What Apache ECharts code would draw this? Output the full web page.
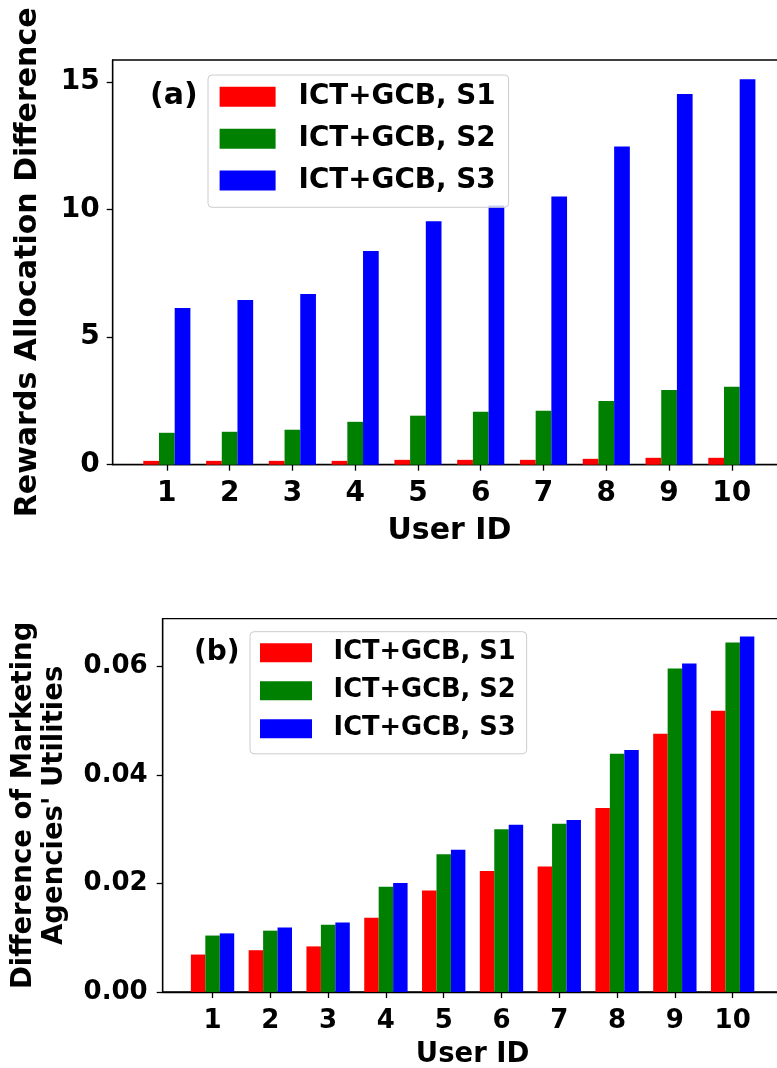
<!DOCTYPE html>
<html>
<head>
<meta charset="utf-8">
<script src="https://cdn.jsdelivr.net/npm/echarts@6/dist/echarts.min.js"></script>
<style>
  html, body { margin: 0; padding: 0; background: #ffffff; }
  #chart { width: 777px; height: 1068px; }
</style>
</head>
<body>
<div id="chart"></div>
<script>
// User IDs on the x axis and the three scheme names
const userIds = [1, 2, 3, 4, 5, 6, 7, 8, 9, 10];
const seriesNames = ['ICT+GCB, S1', 'ICT+GCB, S2', 'ICT+GCB, S3'];

// (a) rewards allocation difference per user
const rewardS1 = [0.15, 0.15, 0.15, 0.15, 0.19, 0.19, 0.19, 0.23, 0.27, 0.27];
const rewardS2 = [1.25, 1.29, 1.37, 1.68, 1.92, 2.07, 2.11, 2.50, 2.93, 3.05];
const rewardS3 = [6.14, 6.45, 6.69, 8.37, 9.54, 10.15, 10.51, 12.47, 14.52, 15.10];

// (b) difference of marketing agencies' utilities per user
const utilS1 = [0.0069, 0.0077, 0.0084, 0.0137, 0.0187, 0.0223, 0.0231, 0.0339, 0.0476, 0.0518];
const utilS2 = [0.0104, 0.0113, 0.0124, 0.0194, 0.0254, 0.0300, 0.0310, 0.0439, 0.0596, 0.0644];
const utilS3 = [0.0108, 0.0119, 0.0128, 0.0201, 0.0262, 0.0308, 0.0317, 0.0446, 0.0605, 0.0655];

// Tick labels on the value axes
const rewardTicks = [0, 5, 10, 15];
const utilTicks = [0, 0.02, 0.04, 0.06];

const colors = ['#ff0000', '#008000', '#0000ff'];
const FONT = 'DejaVu Sans';
const BAR_FRACTION = 0.25;

// Axis limits with 5% padding around the data, like the default autoscale
function xLimits() {
  const lo = userIds[0] - 1.5 * BAR_FRACTION;
  const hi = userIds[userIds.length - 1] + 1.5 * BAR_FRACTION;
  const pad = 0.05 * (hi - lo);
  return [lo - pad, hi + pad];
}
function yMax(groups) {
  return 1.05 * Math.max(...groups.map(g => Math.max(...g)));
}
const [xMin, xMax] = xLimits();

function makeXAxis(gridIndex, tickFont, nameFont, labelMargin, nameGap) {
  return {
    type: 'value', gridIndex, min: xMin, max: xMax,
    axisLine: { show: true, onZero: false, lineStyle: { color: '#000', width: 1.3 } },
    axisTick: { show: true, customValues: userIds, length: 6, lineStyle: { color: '#000', width: 1.3 } },
    axisLabel: { customValues: userIds, fontSize: tickFont, fontWeight: 'bold', fontFamily: FONT, color: '#000', margin: labelMargin },
    splitLine: { show: false },
    name: 'User ID', nameLocation: 'middle', nameGap,
    nameTextStyle: { fontSize: nameFont, fontWeight: 'bold', fontFamily: FONT, color: '#000' }
  };
}

function makeYAxis(gridIndex, max, ticks, fmt, tickFont, name, nameFont, nameGap, labelMargin, nameLineHeight) {
  return {
    type: 'value', gridIndex, min: 0, max,
    axisLine: { show: true, lineStyle: { color: '#000', width: 1.3 } },
    axisTick: { show: true, customValues: ticks, length: 6, lineStyle: { color: '#000', width: 1.3 } },
    axisLabel: { customValues: ticks, formatter: fmt, fontSize: tickFont, fontWeight: 'bold', fontFamily: FONT, color: '#000', margin: labelMargin },
    splitLine: { show: false },
    name, nameLocation: 'middle', nameGap,
    nameTextStyle: { fontSize: nameFont, fontWeight: 'bold', fontFamily: FONT, color: '#000', lineHeight: nameLineHeight, align: 'center' }
  };
}

function makeLegend(box, size) {
  return {
    orient: 'vertical', left: box.left, top: box.top,
    itemWidth: size.w, itemHeight: size.h, itemGap: size.gap,
    padding: box.padding,
    icon: 'rect', selectedMode: false,
    backgroundColor: 'rgba(255,255,255,0.8)', borderColor: '#cccccc', borderWidth: 1, borderRadius: 4,
    textStyle: { fontSize: size.font, fontWeight: 'bold', fontFamily: FONT, color: '#000', padding: [0, 0, 0, size.textPad] },
    data: seriesNames
  };
}

function barSeries(gridIndex, groups) {
  return groups.map((vals, k) => ({
    type: 'bar', name: seriesNames[k],
    xAxisIndex: gridIndex, yAxisIndex: gridIndex,
    barWidth: (BAR_FRACTION * 100) + '%', barGap: '0%',
    itemStyle: { color: colors[k] },
    data: userIds.map((u, i) => [u, vals[i]])
  }));
}

const rewardGroups = [rewardS1, rewardS2, rewardS3];
const utilGroups = [utilS1, utilS2, utilS3];

const chart = echarts.init(document.getElementById('chart'), null, { renderer: 'canvas' });
chart.setOption({
  animation: false,
  backgroundColor: '#ffffff',
  color: colors,
  grid: [
    { left: 112.7, right: -9, top: 60, bottom: 603.3, show: true, borderColor: '#000', borderWidth: 1.3,
      containLabel: false, outerBoundsMode: 'none' },
    { left: 162.7, right: -5.5, top: 618.7, bottom: 76, show: true, borderColor: '#000', borderWidth: 1.3,
      containLabel: false, outerBoundsMode: 'none' }
  ],
  xAxis: [
    makeXAxis(0, 28, 30, 15, 52),
    makeXAxis(1, 26, 27.5, 16, 49)
  ],
  yAxis: [
    makeYAxis(0, yMax(rewardGroups), rewardTicks, v => String(v), 28,
      'Rewards Allocation Difference', 30, 66, 13, 36),
    makeYAxis(1, yMax(utilGroups), utilTicks, v => v.toFixed(2), 26,
      "Difference of Marketing\nAgencies' Utilities", 27.5, 92, 15, 31)
  ],
  legend: [
    makeLegend({ left: 208, top: 75, padding: [7.8, 13, 12.7, 11.6] },
      { w: 56, h: 20, gap: 13.9, font: 27.8, textPad: 18 }),
    makeLegend({ left: 250, top: 631.7, padding: [8.1, 11, 12, 10] },
      { w: 52, h: 19, gap: 12, font: 25.7, textPad: 16.6 })
  ],
  graphic: [
    { type: 'text', left: 150, top: 81, style: { text: '(a)', font: 'bold 30px "DejaVu Sans"', fill: '#000' } },
    { type: 'text', left: 194, top: 639, style: { text: '(b)', font: 'bold 28px "DejaVu Sans"', fill: '#000' } }
  ],
  series: [...barSeries(0, rewardGroups), ...barSeries(1, utilGroups)]
});
</script>
</body>
</html>
